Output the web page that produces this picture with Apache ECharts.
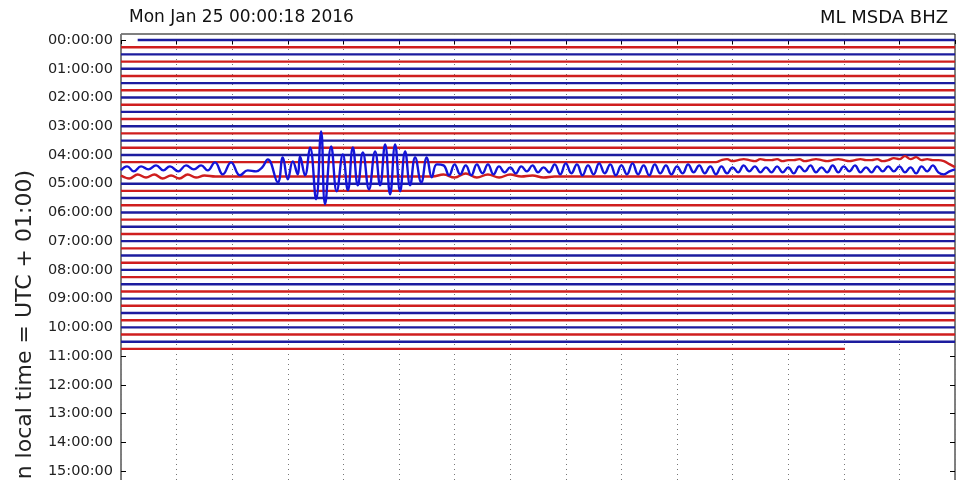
<!DOCTYPE html>
<html>
<head>
<meta charset="utf-8">
<script src="https://cdn.jsdelivr.net/npm/echarts@6/dist/echarts.min.js"></script>
<style>
html,body{margin:0;padding:0;background:#fff;}
#chart{width:959px;height:480px;}
</style>
</head>
<body>
<div id="chart"></div>
<script>
// ---------- data ----------
const titleLeft = 'Mon Jan 25 00:00:18 2016';
const titleRight = 'ML MSDA BHZ';
const yAxisTitle = 'Time (in local time = UTC + 01:00)';
const hourLabels = ['00:00:00','01:00:00','02:00:00','03:00:00','04:00:00','05:00:00',
  '06:00:00','07:00:00','08:00:00','09:00:00','10:00:00','11:00:00','12:00:00','13:00:00',
  '14:00:00','15:00:00','16:00:00','17:00:00','18:00:00','19:00:00','20:00:00','21:00:00',
  '22:00:00','23:00:00'];
const linesPerHour = 4;          // 15-minute traces
const traceCount = 44;           // 00:00 .. 10:45
const firstTraceStart = 0.3;     // minutes (00:00:18)
const lastTraceEnd = 13.02;      // minutes (10:58)
const ampPerLine = 7.2;          // amplitude units per trace spacing

// 04:30 trace: [minute, amplitude]
const event0430 = [[0.00,-1],[0.11,3],[0.23,-2],[0.36,3],[0.49,0],[0.63,4],[0.76,-1],[0.88,3],
  [1.03,-2],[1.17,4],[1.31,0],[1.44,4],[1.56,-1],[1.69,7],[1.83,-5],[1.98,7],[2.14,-6],[2.28,-1],
  [2.43,-2],[2.54,2],[2.64,10],[2.82,-13],[2.91,12],[3.00,-10],[3.09,8],[3.18,-5],[3.22,13],
  [3.31,-6],[3.40,22],[3.51,-30],[3.60,38],[3.67,-35],[3.78,23],[3.88,-22],[3.99,15],[4.08,-21],
  [4.17,22],[4.26,-16],[4.35,17],[4.46,-20],[4.57,18],[4.66,-16],[4.75,25],[4.84,-25],[4.93,25],
  [5.02,-22],[5.11,18],[5.20,-16],[5.29,12],[5.40,-13],[5.50,12],[5.59,-8],[5.68,5]];
// 04:30 trace tail, one sample every 0.1 min from 5.8 min
const event0430TailStart = 5.8;
const event0430Tail = [4,-6,5,-5,4,-6,5,-4,5,-5,
  3,-3,2,-4,3,-2,4,-3,2,-3,
  5,-5,6,-4,5,-6,4,-5,6,-4,
  5,-6,4,-5,6,-5,4,-6,5,-4,
  4,-5,3,-4,5,-3,4,-4,3,-5,
  3,-4,2,-3,4,-2,3,-3,2,-3,
  3,-3,2,-4,3,-2,4,-3,2,-3,
  4,-3,3,-2,4,-3,2,-3,3,-2,
  3,-2,3,-3,2,-4,3,-2,4,-3,-5,-2,0];
// 04:15 trace: flat until 10.7 min, then samples every 0.1 min from 10.8 min
const trace0415QuietEnd = 10.7;
const trace0415TailStart = 10.8;
const trace0415Tail = [2,3,1,2,3,2,1,3,2,2,
  3,1,2,2,3,1,2,3,2,1,
  2,3,2,1,2,3,2,2,3,1,
  2,4,3,6,3,5,2,3,2,2,
  1,-2,-5];
// 04:45 trace: [minute, amplitude]
const trace0445 = [[0,1],[0.15,-2],[0.3,2],[0.45,-1],[0.6,2],[0.75,-2],[0.9,1],[1.05,-2],[1.2,2],
  [1.35,-1],[1.5,1],[1.7,0],[5.6,0],[5.8,2],[6.0,-1],[6.2,3],[6.4,-1],[6.6,2],[6.8,-1],[7.0,2],
  [7.2,0],[7.4,1],[7.6,-1],[7.8,0],[15,0]];

// ---------- build ----------
const BLUE = '#1c1c9e', RED = '#cf1e1e', EVENT_BLUE = '#1414d8';
function toY(idx, amp){ return idx - amp / ampPerLine; }

const series = [];
for (let i = 0; i < traceCount; i++) {
  const start = i === 0 ? firstTraceStart : 0;
  const end = i === traceCount - 1 ? lastTraceEnd : 15;
  let data;
  let color = i % 2 === 0 ? BLUE : RED;
  let width = 2.4;
  let smooth = false;
  if (i === 18) {
    data = event0430.map(p => [p[0], toY(i, p[1])]);
    event0430Tail.forEach((a, k) => data.push([+(event0430TailStart + k * 0.1).toFixed(2), toY(i, a)]));
    color = EVENT_BLUE; width = 2.4; smooth = 0.45;
  } else if (i === 17) {
    data = [[0, i], [trace0415QuietEnd, i]];
    trace0415Tail.forEach((a, k) => data.push([+(trace0415TailStart + k * 0.1).toFixed(2), toY(i, a)]));
    smooth = 0.4;
  } else if (i === 19) {
    data = trace0445.map(p => [p[0], toY(i, p[1])]);
    smooth = 0.4;
  } else {
    data = [[start, i], [end, i]];
  }
  series.push({
    type: 'line', data: data, showSymbol: false, silent: true, smooth: smooth,
    lineStyle: { color: color, width: width }, z: i === 18 ? 5 : 2
  });
}

const hourTickValues = hourLabels.map((_, h) => h * linesPerHour);
const font = 'DejaVu Sans';

const chart = echarts.init(document.getElementById('chart'), null, { renderer: 'canvas' });
chart.setOption({
  animation: false,
  backgroundColor: '#fff',
  grid: { left: 121, top: 34, width: 834, height: 694.5, outerBoundsMode: 'none', containLabel: false,
    show: true, borderColor: '#000', borderWidth: 1, backgroundColor: 'transparent' },
  xAxis: {
    type: 'value', min: 0, max: 15, interval: 1, position: 'top',
    axisLine: { show: false },
    axisTick: { show: true, inside: true, length: 4, lineStyle: { color: '#000' } },
    axisLabel: { show: false },
    splitLine: { show: true, lineStyle: { color: '#777', type: [1, 4], width: 1 } }
  },
  yAxis: [{
    type: 'value', inverse: true, min: -0.84, max: 95.84,
    axisLine: { show: false },
    axisTick: { show: true, inside: true, length: 5, customValues: hourTickValues, lineStyle: { color: '#000' } },
    axisLabel: { show: true, customValues: hourTickValues, margin: 8, color: '#222', fontFamily: font, fontSize: 14.5,
      formatter: v => hourLabels[Math.round(v / linesPerHour)] },
    splitLine: { show: false }
  }, {
    type: 'value', inverse: true, min: -0.84, max: 95.84, position: 'right',
    axisLine: { show: false },
    axisTick: { show: true, inside: true, length: 5, customValues: hourTickValues, lineStyle: { color: '#000' } },
    axisLabel: { show: false },
    splitLine: { show: false }
  }],
  graphic: [
    { type: 'text', x: 129, y: 18, style: { text: titleLeft, fontFamily: font, fontSize: 17, fill: '#111', textAlign: 'left', textVerticalAlign: 'middle' } },
    { type: 'text', x: 948, y: 18, style: { text: titleRight, fontFamily: font, fontSize: 18, fill: '#111', textAlign: 'right', textVerticalAlign: 'middle' } },
    { type: 'text', x: 25, y: 170, rotation: Math.PI / 2, style: { text: yAxisTitle, fontFamily: font, fontSize: 22, fill: '#222', textAlign: 'right', textVerticalAlign: 'middle' } }
  ],
  series: series
});
</script>
</body>
</html>
